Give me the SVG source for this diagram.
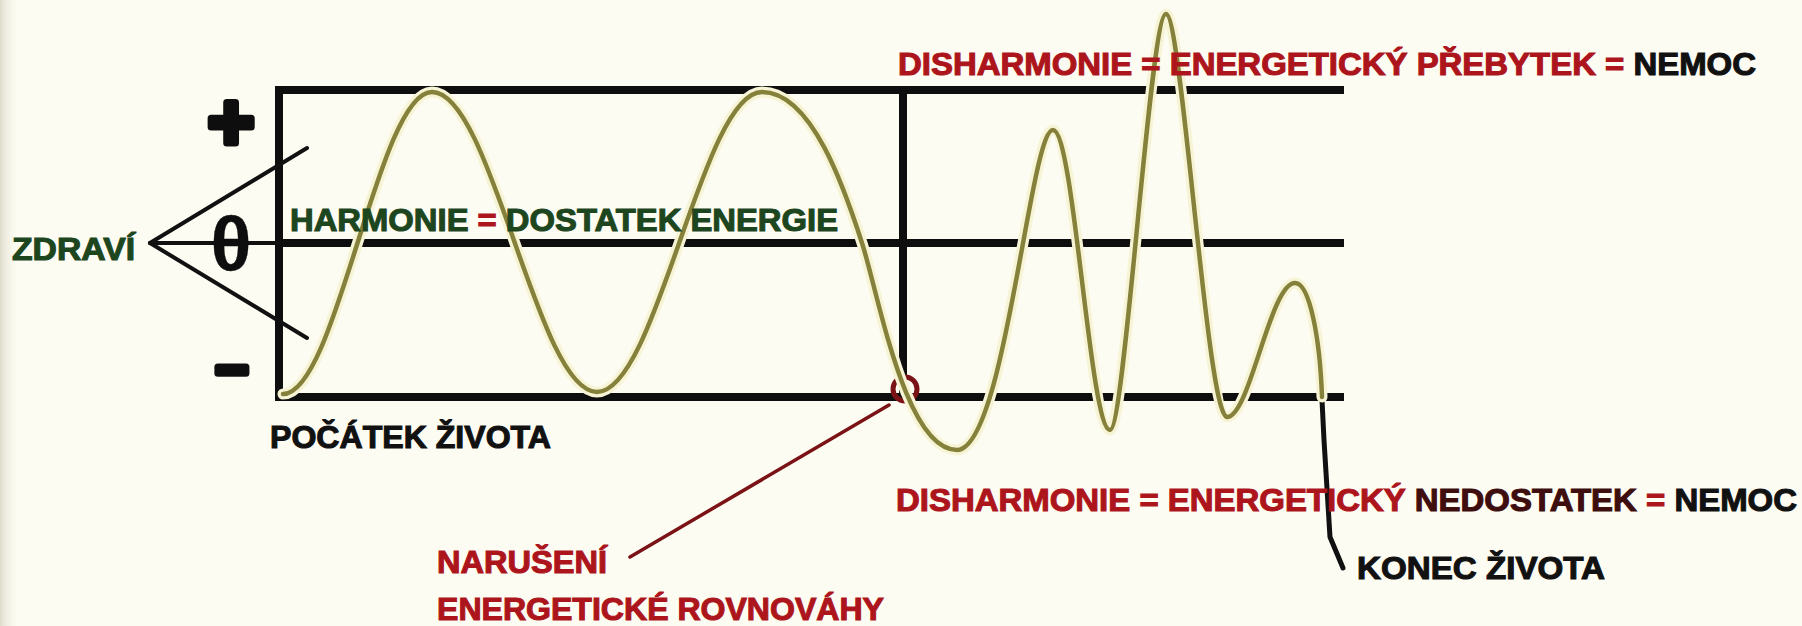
<svg xmlns="http://www.w3.org/2000/svg" width="1802" height="626" viewBox="0 0 1802 626">
  <defs>
    <linearGradient id="edge" x1="0" y1="0" x2="1" y2="0">
      <stop offset="0" stop-color="#dedbcd"/>
      <stop offset="1" stop-color="#fdfcf2" stop-opacity="0"/>
    </linearGradient>
    <style>
      .lbl { font-family: "Liberation Sans", Arial, sans-serif; font-weight: bold; font-size: 32px; }
      .red { fill: #ad151c; stroke: #ad151c; stroke-width: 1.1; }
      .dkred { fill: #3e0d0e; stroke: #3e0d0e; stroke-width: 1.1; }
      .grn { fill: #1d461f; stroke: #1d461f; stroke-width: 1.1; }
      .blk { fill: #111111; stroke: #111111; stroke-width: 1.1; }
      .axis { stroke: #0e0e0e; stroke-width: 8; fill: none; }
      .thin { stroke: #111111; stroke-width: 4; fill: none; stroke-linecap: round; }
      .halo { stroke: #f7f4d6; stroke-width: 11; fill: none; stroke-linecap: round; }
      .wave { stroke: #85813a; stroke-width: 4.5; fill: none; stroke-linecap: round; }
      .sym { font-family: "Liberation Sans", Arial, sans-serif; font-weight: bold; fill: #0e0e0e; stroke: #0e0e0e; stroke-linejoin: round; }
    </style>
  </defs>

  <rect x="0" y="0" width="1802" height="626" fill="#fdfcf2"/>
  <rect x="0" y="0" width="20" height="626" fill="url(#edge)"/>

  <g id="axes">
    <line class="axis" x1="279" y1="86" x2="279" y2="401"/>
    <line class="axis" x1="275" y1="90" x2="1344" y2="90" stroke-width="7"/>
    <line class="axis" x1="279" y1="243" x2="1344" y2="243" stroke-width="6.5"/>
    <line class="axis" x1="275" y1="397" x2="1344" y2="397"/>
    <line class="axis" x1="903" y1="90" x2="903" y2="397"/>
  </g>

  <g id="zdravi-bracket">
    <line class="thin" x1="150" y1="243" x2="307" y2="148"/>
    <line class="thin" x1="150" y1="243" x2="307" y2="338"/>
    <line class="thin" x1="150" y1="243" x2="279" y2="243" stroke="#1c2e1c"/>
    <text class="sym" x="231" y="149" font-size="80" stroke-width="7" text-anchor="middle">+</text>
    <text class="sym" x="231" y="270" font-size="76" font-weight="normal" stroke-width="0.3" text-anchor="middle">θ</text>
    <text class="sym" x="232" y="389" font-size="56" stroke-width="7" text-anchor="middle">−</text>
  </g>

  <g id="connectors">
    <line x1="630" y1="557" x2="889" y2="405" stroke="#7a1216" stroke-width="3.5" stroke-linecap="round"/>
    <circle cx="905" cy="389" r="12" fill="none" stroke="#7a1216" stroke-width="5"/>
    <polyline points="1322,400 1324,440 1330,537 1343,568" fill="none" stroke="#111111" stroke-width="5" stroke-linejoin="round" stroke-linecap="round"/>
  </g>

  <g id="wave">
    <path class="halo" d="M 283,394 C 337,394 378,92 432,92 C 492,92 537,392 597,392 C 657,392 702,92 762,92 C 812,92 845,190 862,243 C 879,296 905,450 957,450 C 1005,450 1030,130 1053,130 C 1074,130 1090,430 1110,430 C 1125,430 1150,14 1166,14 C 1182,14 1207,417 1227,417 C 1250,417 1270,283 1295,283 C 1310,283 1320,340 1322,397"/>
    <path class="wave" d="M 283,394 C 337,394 378,92 432,92 C 492,92 537,392 597,392 C 657,392 702,92 762,92 C 812,92 845,190 862,243 C 879,296 905,450 957,450 C 1005,450 1030,130 1053,130 C 1074,130 1090,430 1110,430 C 1125,430 1150,14 1166,14 C 1182,14 1207,417 1227,417 C 1250,417 1270,283 1295,283 C 1310,283 1320,340 1322,397"/>
  </g>

  <g id="label-zdravi">
    <text class="lbl grn" x="12" y="260" textLength="123" lengthAdjust="spacingAndGlyphs">ZDRAVÍ</text>
  </g>
  <g id="label-harmonie">
    <text class="lbl" x="290" y="231" textLength="548" lengthAdjust="spacingAndGlyphs"><tspan class="grn">HARMONIE </tspan><tspan class="red">=</tspan><tspan class="grn"> DOSTATEK ENERGIE</tspan></text>
  </g>
  <g id="label-prebytek">
    <text class="lbl" x="898" y="75" textLength="858" lengthAdjust="spacingAndGlyphs"><tspan class="red">DISHARMONIE = ENERGETICKÝ PŘEBYTEK =</tspan><tspan class="blk"> NEMOC</tspan></text>
  </g>
  <g id="label-nedostatek">
    <text class="lbl" x="896" y="511" textLength="901" lengthAdjust="spacingAndGlyphs"><tspan class="red">DISHARMONIE = ENERGETICKÝ </tspan><tspan class="dkred">NEDOSTATEK</tspan><tspan class="red"> = </tspan><tspan class="blk">NEMOC</tspan></text>
  </g>
  <g id="label-pocatek">
    <text class="lbl blk" x="270" y="448" textLength="281" lengthAdjust="spacingAndGlyphs">POČÁTEK ŽIVOTA</text>
  </g>
  <g id="label-naruseni">
    <text class="lbl red" x="437" y="573" textLength="170" lengthAdjust="spacingAndGlyphs">NARUŠENÍ</text>
    <text class="lbl red" x="437" y="620" textLength="447" lengthAdjust="spacingAndGlyphs">ENERGETICKÉ ROVNOVÁHY</text>
  </g>
  <g id="label-konec">
    <text class="lbl blk" x="1357" y="579" textLength="248" lengthAdjust="spacingAndGlyphs">KONEC ŽIVOTA</text>
  </g>
</svg>
